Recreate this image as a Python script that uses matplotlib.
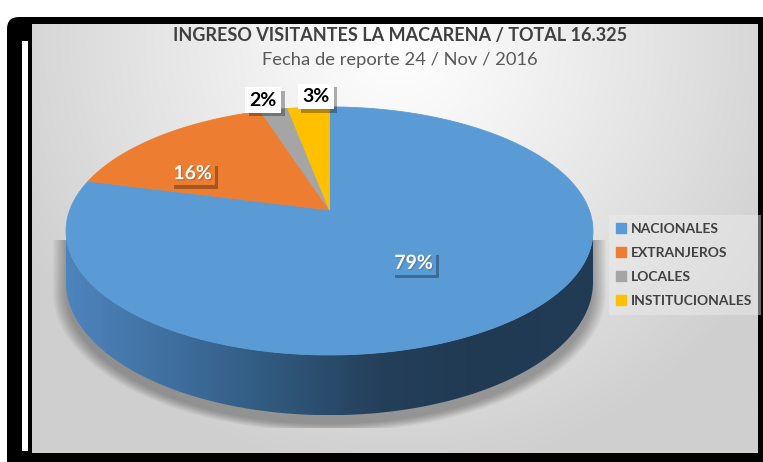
import numpy as np
import matplotlib
matplotlib.use("Agg")
import matplotlib.pyplot as plt
import matplotlib.patheffects as pe
from matplotlib.patches import Polygon, FancyBboxPatch, Rectangle
from matplotlib.lines import Line2D
from matplotlib.colors import LinearSegmentedColormap

# Data
categories = ["NACIONALES", "EXTRANJEROS", "LOCALES", "INSTITUCIONALES"]
percent = [79, 16, 2, 3]
colors = ["#5b9bd5", "#ed7d31", "#a5a5a5", "#ffc000"]
title = "INGRESO VISITANTES LA MACARENA / TOTAL 16.325"
subtitle = "Fecha de reporte 24 / Nov / 2016"

FONT = ["Lato", "DejaVu Sans"]

# 3D pie geometry (pixels)
cx, cy = 329.5, 210.0     # centre of the top face
A, B = 259.7, 120.5       # semi axes before perspective
K = 0.169                 # perspective strength
DEPTH = 50.0              # height of the pie


def proj(u, v, drop=0.0):
    w = 1 + K * v
    return cx + A * u / w, cy - B * v / w + drop / w


fig = plt.figure(figsize=(7.63, 4.62), dpi=100)
fig.patch.set_facecolor("white")
ax = fig.add_axes([0, 0, 1, 1])
ax.set_xlim(0, 763)
ax.set_ylim(462, 0)
ax.axis("off")

# frame
ax.add_patch(FancyBboxPatch((7, 17), 800, 500, boxstyle="round,pad=0,rounding_size=12",
                            fc="black", ec="none", zorder=0))
ax.add_patch(Rectangle((22, 41), 6, 410, fc="white", ec="none", zorder=1))

# background gradient of the chart area
px0, px1, py0, py1 = 32, 758, 24, 453
gx, gy = np.meshgrid(np.linspace(px0, px1, 400), np.linspace(py0, py1, 240))
d = np.sqrt(((gx - 400) / 430) ** 2 + ((gy - 40) / 440) ** 2)
val = 255 - 48 * np.clip(d, 0, 1) ** 1.1
bg = np.dstack([val, val, val]) / 255
ax.imshow(bg, extent=(px0, px1, py1, py0), aspect="auto", zorder=1, interpolation="bilinear")

# slice angles, clockwise from 12 o'clock
fracs = np.array(percent) / np.sum(percent)
edges = 90 - 360 * np.concatenate([[0], np.cumsum(fracs)])

# silhouette for the shadow
tl = np.pi + np.arcsin(K)
tr = 2 * np.pi - np.arcsin(K)
t_back = np.linspace(-np.arcsin(K), np.pi + np.arcsin(K), 200)
t_front = np.linspace(tl, tr, 200)
sil = [proj(np.cos(t), np.sin(t)) for t in t_back]
sil += [proj(np.cos(t), np.sin(t), DEPTH) for t in t_front]
sil = np.array(sil)
sc = sil.mean(axis=0)
clip_rect = Rectangle((px0, 240), px1 - px0, 428 - 240, transform=ax.transData)
for s in np.linspace(1.0, 1.05, 14):
    pts = (sil - sc) * [s, s] + sc + [0, 9]
    sh = Polygon(pts, closed=True, fc="black", ec="none", alpha=0.024, zorder=2)
    ax.add_patch(sh)
    sh.set_clip_path(clip_rect)

# side of the pie
top_arc = [proj(np.cos(t), np.sin(t)) for t in t_front]
bot_arc = [proj(np.cos(t), np.sin(t), DEPTH) for t in t_front[::-1]]
side = Polygon(np.array(top_arc + bot_arc), closed=True, fc="none", ec="none",
               transform=ax.transData)
side_cmap = LinearSegmentedColormap.from_list(
    "side", ["#4e84bd", "#3f6f9f", "#30587c", "#243f5a", "#213a53", "#223c56"])
grad = np.linspace(0, 1, 256).reshape(1, -1)
xs = np.array(top_arc)[:, 0]
ys = np.array(bot_arc)[:, 1]
im = ax.imshow(grad, cmap=side_cmap,
               extent=(xs.min(), xs.max(), ys.max(), np.array(top_arc)[:, 1].min()),
               aspect="auto", zorder=3)
im.set_clip_path(side)

# top face
for i in range(len(percent)):
    t = np.radians(np.linspace(edges[i], edges[i + 1], 150))
    pts = [proj(0, 0)] + [proj(np.cos(a), np.sin(a)) for a in t]
    ax.add_patch(Polygon(pts, closed=True, fc=colors[i], ec=colors[i], lw=0.6, zorder=4))

# data labels
label_r = [0.51, 0.64, 1.12, 1.12]
label_shift = [-1.6, 13.4, 1.2, -2.2]
for i, p in enumerate(percent):
    a = np.radians((edges[i] + edges[i + 1]) / 2 + label_shift[i])
    x, y = proj(label_r[i] * np.cos(a), label_r[i] * np.sin(a))
    inside = label_r[i] < 1
    t = ax.text(x, y, f"{p}%", ha="center", va="center", fontsize=14, fontweight="bold",
                family=FONT, color="white" if inside else "black", zorder=6,
                bbox=dict(boxstyle="square,pad=0.15" if inside else "square,pad=0.22",
                          fc=colors[i] if inside else "white", ec="none"))
    t.get_bbox_patch().set_path_effects([
        pe.SimplePatchShadow(offset=(2.5, -2.5), shadow_rgbFace="black", alpha=0.3),
        pe.Normal()])
    if inside:
        t.set_path_effects([pe.SimplePatchShadow(offset=(1, -1), alpha=0.3), pe.Normal()])

# titles
ax.text(400, 35, title, ha="center", va="center", fontsize=13, fontweight="bold",
        family=FONT, color="#404040", zorder=6)
ax.text(400, 60, subtitle, ha="center", va="center", fontsize=13.2,
        family=FONT, color="#595959", zorder=6)

# legend
handles = [Line2D([], [], ls="none", marker="s", markersize=7, mfc=c, mec=c) for c in colors]
leg = ax.legend(handles, categories, loc="center left", bbox_to_anchor=(602 / 763, 1 - 265 / 462),
                bbox_transform=fig.transFigure, frameon=True, fancybox=False,
                handlelength=0.6, handletextpad=0.4, labelspacing=0.85, borderpad=0.6,
                prop={"family": FONT, "weight": "bold", "size": 10})
leg.get_frame().set_facecolor("#eeeeee")
leg.get_frame().set_alpha(0.45)
leg.get_frame().set_edgecolor("none")
leg.set_zorder(6)
for txt in leg.get_texts():
    txt.set_color("#404040")

ax.set_xlim(0, 763)
ax.set_ylim(462, 0)
fig.savefig("out.png", dpi=100)
